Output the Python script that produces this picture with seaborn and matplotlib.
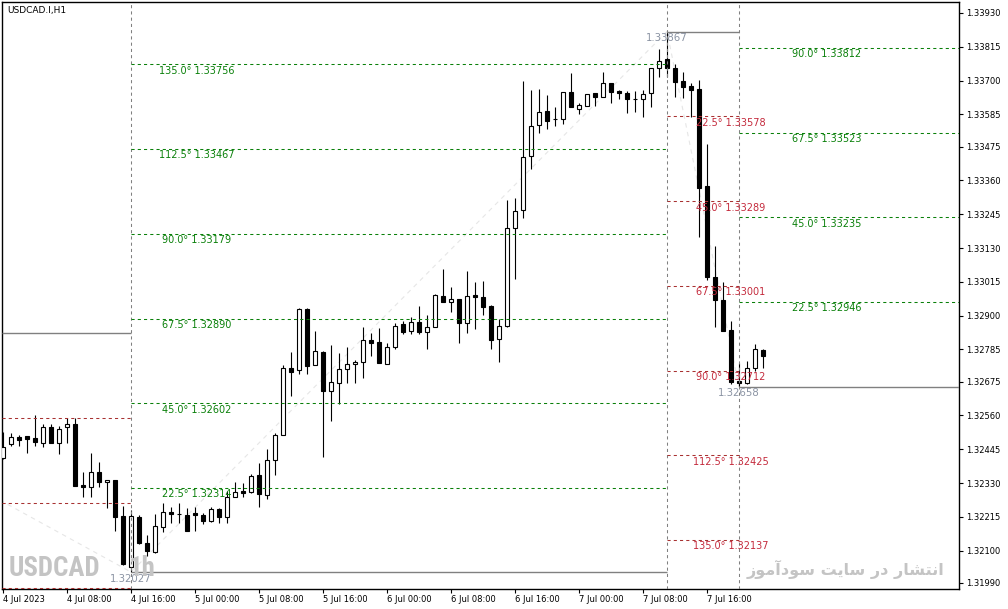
import numpy as np
import pandas as pd
import matplotlib
matplotlib.use("Agg")
import matplotlib.pyplot as plt
from matplotlib import font_manager as fm
import seaborn as sns

# ---------------- data ----------------
bar_open = [1.32415, 1.32463, 1.32487, 1.32490, 1.32483, 1.32466, 1.32521, 1.32466, 1.32521, 1.32531,
            1.32323, 1.32317, 1.32368, 1.32334, 1.32340, 1.32218, 1.32044, 1.32214, 1.32126, 1.32095,
            1.32180, 1.32232, 1.32225, 1.32221, 1.32228, 1.32221, 1.32201, 1.32242, 1.32214, 1.32283,
            1.32303, 1.32300, 1.32357, 1.32289, 1.32409, 1.32494, 1.32722, 1.32715, 1.32923, 1.32732,
            1.32776, 1.32643, 1.32671, 1.32718, 1.32735, 1.32742, 1.32817, 1.32810, 1.32735, 1.32793,
            1.32871, 1.32848, 1.32878, 1.32844, 1.32861, 1.32967, 1.32946, 1.32957, 1.32875, 1.32970,
            1.32963, 1.32933, 1.32820, 1.32865, 1.33198, 1.33260, 1.33443, 1.33549, 1.33597, 1.33569,
            1.33569, 1.33661, 1.33603, 1.33614, 1.33658, 1.33644, 1.33692, 1.33665, 1.33658, 1.33637,
            1.33637, 1.33658, 1.33743, 1.33774, 1.33743, 1.33699, 1.33682, 1.33671, 1.33341, 1.33031,
            1.32953, 1.32851, 1.32677, 1.32671, 1.32722, 1.32783]
bar_high = [1.32504, 1.32500, 1.32494, 1.32490, 1.32562, 1.32531, 1.32531, 1.32524, 1.32551, 1.32551,
            1.32368, 1.32432, 1.32402, 1.32340, 1.32340, 1.32252, 1.32238, 1.32221, 1.32153, 1.32225,
            1.32262, 1.32249, 1.32262, 1.32245, 1.32249, 1.32228, 1.32249, 1.32245, 1.32303, 1.32334,
            1.32330, 1.32361, 1.32398, 1.32446, 1.32500, 1.32732, 1.32776, 1.32926, 1.32926, 1.32848,
            1.32780, 1.32800, 1.32773, 1.32793, 1.32749, 1.32861, 1.32841, 1.32858, 1.32807, 1.32875,
            1.32882, 1.32895, 1.32933, 1.32902, 1.32974, 1.33059, 1.32997, 1.32957, 1.33052, 1.33014,
            1.33018, 1.32936, 1.32888, 1.33294, 1.33300, 1.33699, 1.33668, 1.33671, 1.33651, 1.33610,
            1.33661, 1.33726, 1.33624, 1.33654, 1.33658, 1.33729, 1.33692, 1.33668, 1.33665, 1.33665,
            1.33668, 1.33743, 1.33808, 1.33867, 1.33756, 1.33729, 1.33692, 1.33702, 1.33484, 1.33137,
            1.33014, 1.32882, 1.32739, 1.32746, 1.32803, 1.32786]
bar_low = [1.32412, 1.32456, 1.32456, 1.32432, 1.32456, 1.32453, 1.32466, 1.32429, 1.32466, 1.32320,
           1.32283, 1.32283, 1.32317, 1.32245, 1.32167, 1.32051, 1.32027, 1.32123, 1.32082, 1.32092,
           1.32163, 1.32194, 1.32194, 1.32167, 1.32167, 1.32191, 1.32197, 1.32194, 1.32194, 1.32283,
           1.32283, 1.32296, 1.32249, 1.32276, 1.32357, 1.32494, 1.32626, 1.32701, 1.32701, 1.32732,
           1.32419, 1.32541, 1.32599, 1.32671, 1.32671, 1.32688, 1.32763, 1.32739, 1.32735, 1.32786,
           1.32837, 1.32837, 1.32837, 1.32786, 1.32861, 1.32946, 1.32912, 1.32807, 1.32841, 1.32854,
           1.32902, 1.32786, 1.32742, 1.32861, 1.33025, 1.33232, 1.33399, 1.33522, 1.33535, 1.33545,
           1.33552, 1.33610, 1.33586, 1.33614, 1.33614, 1.33644, 1.33624, 1.33637, 1.33590, 1.33593,
           1.33576, 1.33610, 1.33712, 1.33712, 1.33644, 1.33641, 1.33576, 1.33168, 1.33021, 1.32861,
           1.32848, 1.32667, 1.32658, 1.32667, 1.32711, 1.32722]
bar_close = [1.32453, 1.32487, 1.32477, 1.32480, 1.32470, 1.32521, 1.32466, 1.32514, 1.32531, 1.32320,
             1.32317, 1.32368, 1.32334, 1.32340, 1.32214, 1.32054, 1.32218, 1.32126, 1.32099, 1.32184,
             1.32232, 1.32225, 1.32225, 1.32167, 1.32221, 1.32201, 1.32242, 1.32214, 1.32283, 1.32300,
             1.32296, 1.32354, 1.32293, 1.32409, 1.32494, 1.32722, 1.32708, 1.32923, 1.32728, 1.32780,
             1.32643, 1.32674, 1.32718, 1.32735, 1.32742, 1.32817, 1.32807, 1.32739, 1.32793, 1.32865,
             1.32844, 1.32878, 1.32844, 1.32861, 1.32970, 1.32946, 1.32957, 1.32875, 1.32967, 1.32963,
             1.32929, 1.32817, 1.32865, 1.33198, 1.33256, 1.33440, 1.33545, 1.33593, 1.33562, 1.33569,
             1.33661, 1.33610, 1.33617, 1.33654, 1.33644, 1.33692, 1.33661, 1.33658, 1.33637, 1.33637,
             1.33654, 1.33743, 1.33767, 1.33743, 1.33695, 1.33678, 1.33668, 1.33334, 1.33031, 1.32953,
             1.32848, 1.32674, 1.32671, 1.32722, 1.32786, 1.32763]

date_tick_bars = [0, 8, 16, 24, 32, 40, 48, 56, 64, 72, 80, 88]
date_tick_labels = ["4 Jul 2023", "4 Jul 08:00", "4 Jul 16:00", "5 Jul 00:00", "5 Jul 08:00",
                    "5 Jul 16:00", "6 Jul 00:00", "6 Jul 08:00", "6 Jul 16:00", "7 Jul 00:00",
                    "7 Jul 08:00", "7 Jul 16:00"]
price_tick_labels = ["1.33930", "1.33815", "1.33700", "1.33585", "1.33475", "1.33360", "1.33245",
                     "1.33130", "1.33015", "1.32900", "1.32785", "1.32675", "1.32560", "1.32445",
                     "1.32330", "1.32215", "1.32100", "1.31990"]

# Gann grid 1 (from the low of 4 Jul 16:00)
grid1_start, grid1_end = 16, 83
grid1_base = 1.32027
grid1_angles = ["22.5°", "45.0°", "67.5°", "90.0°", "112.5°", "135.0°"]
grid1_levels = [1.32314, 1.32602, 1.32890, 1.33179, 1.33467, 1.33756]
# Gann grid 2 (from the high of 7 Jul 11:00)
grid2_start, grid2_end = 83, 92
grid2_base = 1.33867
grid2_angles = ["22.5°", "45.0°", "67.5°", "90.0°", "112.5°", "135.0°"]
grid2_levels = [1.33578, 1.33289, 1.33001, 1.32712, 1.32425, 1.32137]
# Gann grid 3 (from the low of 7 Jul 20:00)
grid3_start = 92
grid3_base = 1.32658
grid3_angles = ["22.5°", "45.0°", "67.5°", "90.0°"]
grid3_levels = [1.32946, 1.33235, 1.33523, 1.33812]
# earlier grid, left of the chart
grid0_base = 1.32840
grid0_levels = [1.32551, 1.32262, 1.31973]
# zigzag connecting the pivots
zigzag_bar = [-0.4, 16, 83, 92]
zigzag_price = [1.32272, 1.32027, 1.33867, 1.32658]

# ---------------- figure ----------------
sns.set_style("white")
plt.rcParams["font.family"] = ["DejaVu Sans"]

W, H = 1008, 609
fig = plt.figure(figsize=(W / 100, H / 100), dpi=100)
ax = fig.add_axes([2 / W, 20 / H, 957 / W, 587 / H])

x_left, x_right = -0.125, 119.5
y_bottom, y_top = 1.319693, 1.3396744
ax.set_xlim(x_left, x_right)
ax.set_ylim(y_bottom, y_top)

df = pd.DataFrame({"open": bar_open, "high": bar_high, "low": bar_low, "close": bar_close})
df["bar"] = np.arange(len(df))
up = df[df["close"] >= df["open"]]
dn = df[df["close"] < df["open"]]

ax.vlines(df["bar"], df["low"], df["high"], color="black", lw=0.8, zorder=2)
ax.bar(up["bar"], up["close"] - up["open"], bottom=up["open"], width=0.6,
       facecolor="white", edgecolor="black", lw=0.8, zorder=3)
ax.bar(dn["bar"], dn["open"] - dn["close"], bottom=dn["close"], width=0.6,
       facecolor="black", edgecolor="black", lw=0.8, zorder=3)

# zigzag (very faint)
zz = pd.DataFrame({"bar": zigzag_bar, "price": zigzag_price})
sns.lineplot(data=zz, x="bar", y="price", ax=ax, color="#e6e6e6", lw=0.8,
             linestyle=(0, (4, 4)), zorder=1, sort=False)

GREEN = "#0a800a"
RED_LINE = "#a83232"
RED_TXT = "#c42a3c"
GRAY = "#808080"
GRAY_TXT = "#8a93a3"
dash = (0, (3, 3))
lw = 0.75
LBL = 7.0

# vertical dashed separators
for b in [grid1_start, grid2_start, grid3_start]:
    ax.axvline(b, color=GRAY, lw=lw, linestyle=dash, zorder=4)

# grid 0
ax.hlines(grid0_base, x_left, grid1_start, color=GRAY, lw=1, zorder=4)
ax.hlines(grid0_levels, x_left, grid1_start, color=RED_LINE, lw=lw, linestyle=dash, zorder=4)

# grid 1
ax.hlines(grid1_base, grid1_start, grid1_end, color=GRAY, lw=1, zorder=4)
ax.hlines(grid1_levels, grid1_start, grid1_end, color=GREEN, lw=lw, linestyle=dash, zorder=4)
for a, v in zip(grid1_angles, grid1_levels):
    ax.annotate(f"{a} {v:.5f}", (24.2, v), xytext=(0, -4.6), textcoords="offset points",
                ha="center", va="center", fontsize=LBL, color=GREEN, zorder=5)

# grid 2
ax.hlines(grid2_base, grid2_start, grid2_end, color=GRAY, lw=1, zorder=4)
ax.hlines(grid2_levels, grid2_start, grid2_end, color=RED_LINE, lw=lw, linestyle=dash, zorder=4)
for a, v in zip(grid2_angles, grid2_levels):
    ax.annotate(f"{a} {v:.5f}", (91, v), xytext=(0, -4.6), textcoords="offset points",
                ha="center", va="center", fontsize=LBL, color=RED_TXT, zorder=5)

# grid 3
ax.hlines(grid3_base, grid3_start, x_right, color=GRAY, lw=1, zorder=4)
ax.hlines(grid3_levels, grid3_start, x_right, color=GREEN, lw=lw, linestyle=dash, zorder=4)
for a, v in zip(grid3_angles, grid3_levels):
    ax.annotate(f"{a} {v:.5f}", (103, v), xytext=(0, -4.6), textcoords="offset points",
                ha="center", va="center", fontsize=LBL, color=GREEN, zorder=5)

# pivot price labels
for b, v in [(grid1_start, grid1_base), (grid2_start, grid2_base), (grid3_start, grid3_base)]:
    ax.annotate(f"{v:.5f}", (b, v), xytext=(0, -4.8), textcoords="offset points",
                ha="center", va="center", fontsize=7.3, color=GRAY_TXT, zorder=5)

# axes styling
for s in ax.spines.values():
    s.set_visible(True)
    s.set_color("black")
    s.set_linewidth(1.0)
ax.grid(False)
ax.set_xlabel("")
ax.set_ylabel("")

ax.yaxis.tick_right()
price_ticks = [float(t) for t in price_tick_labels]
ax.set_yticks(price_ticks)
ax.set_yticklabels(price_tick_labels)
ax.set_xticks(date_tick_bars)
ax.set_xticklabels(date_tick_labels, ha="left")
ax.tick_params(axis="y", which="both", direction="out", length=3, width=0.8,
               pad=2, labelsize=6, colors="black", right=True, left=False)
ax.tick_params(axis="x", which="both", direction="out", length=3, width=0.8,
               pad=1.5, labelsize=6, colors="black", bottom=True)

# title
fig.text(7 / W, 1 - 10 / H, "USDCAD.I,H1", fontsize=6.5, color="black",
         ha="left", va="center")

# ---------------- watermarks ----------------
renderer = fig.canvas.get_renderer()


def fit_width(txt, target_px, max_size):
    w = txt.get_window_extent(renderer).width
    if w > target_px:
        txt.set_fontsize(txt.get_fontsize() * target_px / w)


names = {f.name for f in fm.fontManager.ttflist}
wm_kw = dict(family=["DejaVu Sans"], fontweight="bold")
for cand in ["Liberation Sans Narrow", "Roboto Condensed", "Open Sans Condensed",
             "DejaVu Sans Condensed", "Noto Sans Condensed"]:
    if cand in names:
        wm_kw = dict(family=[cand], fontweight="bold")
        break
else:
    if any(f.name == "DejaVu Sans" and str(f.stretch) == "condensed" for f in fm.fontManager.ttflist):
        wm_kw = dict(family=["DejaVu Sans"], fontweight="bold", fontstretch="condensed")

WM = "#c4c4c4"
t1 = fig.text(9 / W, 1 - 569 / H, "USDCAD", fontsize=23, color=WM,
              ha="left", va="center", zorder=0, **wm_kw)
fit_width(t1, 92, 23)
t2 = fig.text(129 / W, 1 - 569 / H, "1h", fontsize=t1.get_fontsize(), color=WM,
              ha="left", va="center", zorder=0, **wm_kw)

# Persian watermark "انتشار در سایت سودآموز" (shaped presentation forms, visual order)
fa_logical = ("\uFE8D\uFEE7\uFE98\uFEB8\uFE8E\uFEAD" + " " +
              "\uFEA9\uFEAD" + " " +
              "\uFEB3\uFE8E\uFBFE\uFE96" + " " +
              "\uFEB3\uFEEE\uFEA9\uFE81\uFEE3\uFEEE\uFEAF")
fa_visual = fa_logical[::-1]
t3 = fig.text(846 / W, 1 - 569 / H, fa_visual, fontsize=15, fontweight="bold", color=WM,
              family=["DejaVu Sans"], ha="center", va="center", zorder=0)
fit_width(t3, 198, 15)

fig.savefig("out.png", dpi=100)
